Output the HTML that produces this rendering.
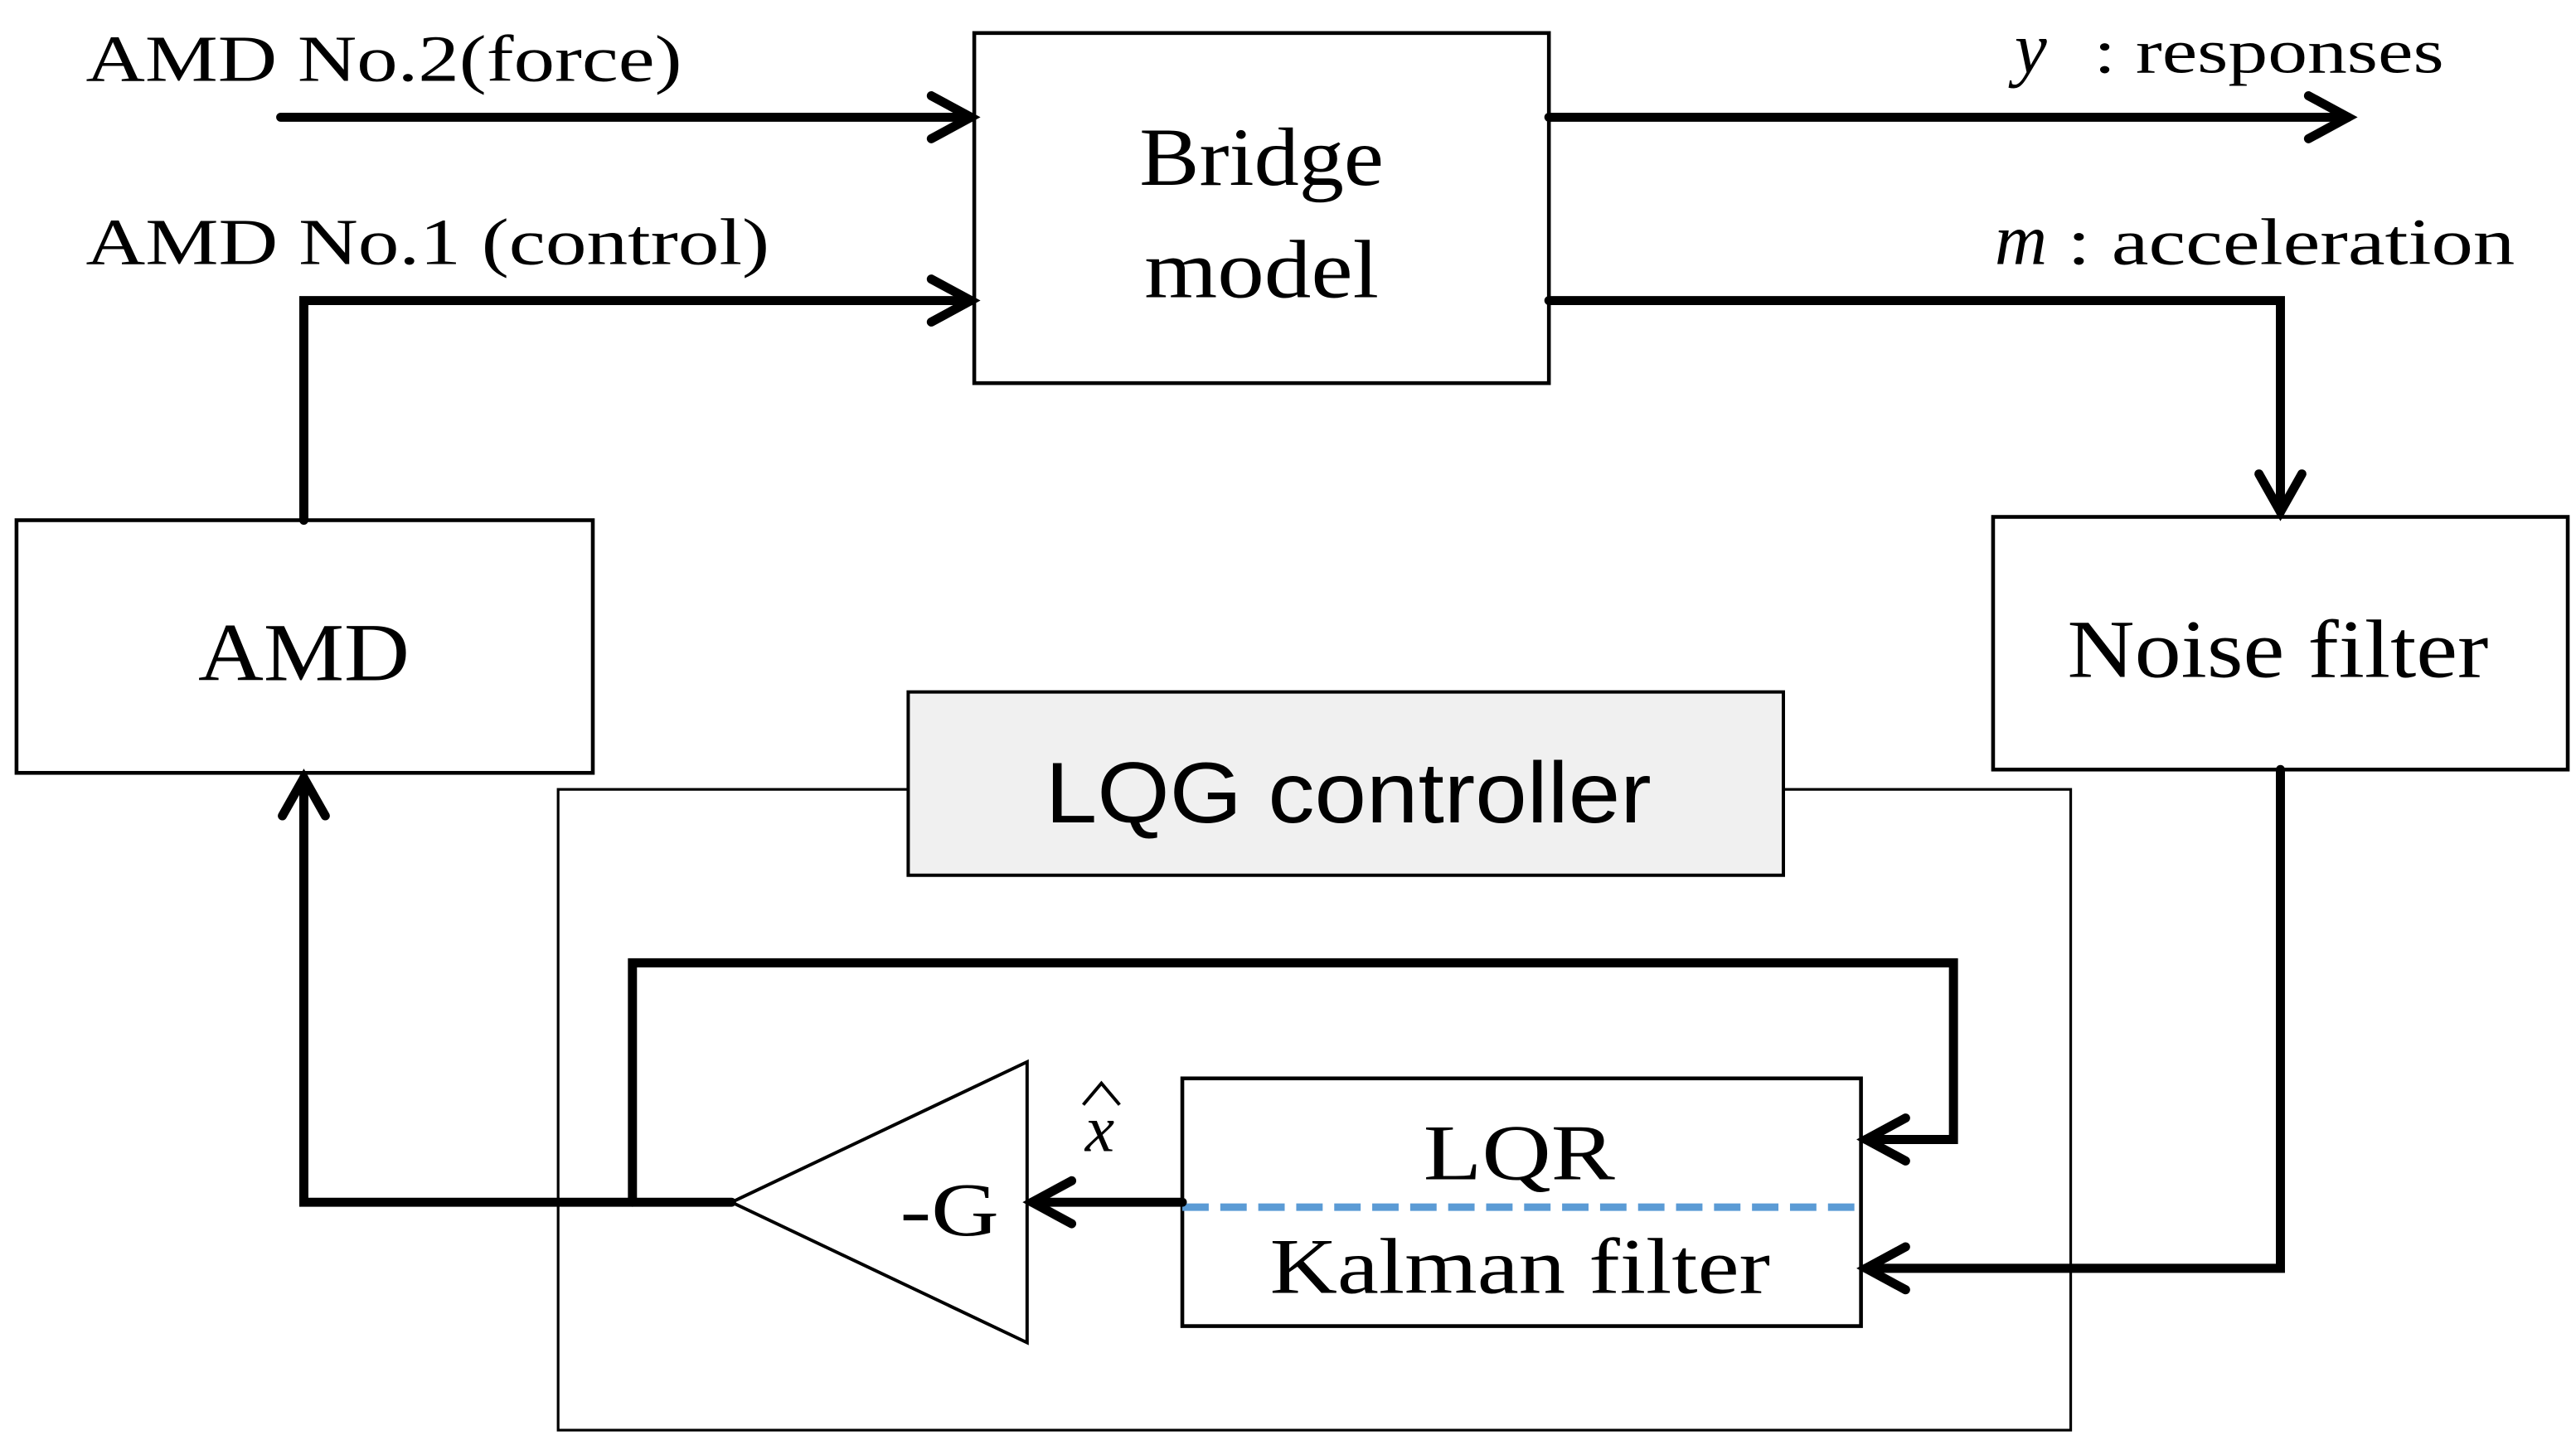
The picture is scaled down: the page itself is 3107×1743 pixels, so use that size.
<!DOCTYPE html>
<html><head><style>html,body{margin:0;padding:0;background:#fff}svg{display:block}</style></head><body>
<svg width="3107" height="1743" viewBox="0 0 1560 875" preserveAspectRatio="none" xmlns="http://www.w3.org/2000/svg">
<g font-family="Liberation Serif, serif" fill="#000">
<g fill="none" stroke="#000" stroke-width="2.3">
<rect x="590" y="20" width="348" height="212"/>
<rect x="10" y="315" width="349" height="153"/>
<rect x="1207" y="313" width="348" height="153"/>
<rect x="338" y="478" width="916" height="388" stroke-width="1.6"/>
<rect x="550" y="419" width="530" height="111" fill="#f0f0f0" stroke-width="2"/>
<polygon points="443,728 622,643 622,813" stroke-width="2"/>
<rect x="716" y="653" width="411" height="150"/>
</g>
<line x1="716" y1="731" x2="1127" y2="731" stroke="#5b9bd5" stroke-width="4.5" stroke-dasharray="16,7"/>
<g fill="none" stroke="#000" stroke-width="5.5" stroke-linecap="round" stroke-linejoin="miter">
<polyline points="170,71 588,71"/>
<polyline points="184,315 184,182 588,182"/>
<polyline points="938,71 1422,71"/>
<polyline points="938,182 1381,182 1381,310"/>
<polyline points="716,728 625,728"/>
<polyline points="443,728 184,728 184,471"/>
<polyline points="383,728 383,583 1183,583 1183,690 1130,690"/>
<polyline points="1381,466 1381,768 1130,768"/>
</g>
<g fill="none" stroke="#000" stroke-width="5.5" stroke-linecap="round" stroke-linejoin="miter">
<polyline points="564,58 588,71 564,84"/>
<polyline points="564,169 588,182 564,195"/>
<polyline points="1398,58 1422,71 1398,84"/>
<polyline points="1368,287 1381,310 1394,287"/>
<polyline points="649,715 625,728 649,741"/>
<polyline points="171,494 184,471 197,494"/>
<polyline points="1154,677 1130,690 1154,703"/>
<polyline points="1154,755 1130,768 1154,781"/>
</g>
<text x="52" y="49" font-size="40" textLength="361" lengthAdjust="spacingAndGlyphs">AMD  No.2(force)</text>
<text x="52" y="160" font-size="40" textLength="414" lengthAdjust="spacingAndGlyphs">AMD  No.1 (control)</text>
<text x="1220" y="44" font-size="44" font-style="italic">y</text>
<text x="1268" y="44" font-size="38" textLength="212" lengthAdjust="spacingAndGlyphs">: responses</text>
<text x="1208" y="160" font-size="44" font-style="italic">m</text>
<text x="1252" y="160" font-size="40" textLength="271" lengthAdjust="spacingAndGlyphs">: acceleration</text>
<text x="690" y="112" font-size="50" textLength="148" lengthAdjust="spacingAndGlyphs">Bridge</text>
<text x="693" y="180" font-size="50" textLength="142" lengthAdjust="spacingAndGlyphs">model</text>
<text x="120" y="412" font-size="50" textLength="128" lengthAdjust="spacingAndGlyphs">AMD</text>
<text x="1252" y="410" font-size="50" textLength="255" lengthAdjust="spacingAndGlyphs">Noise filter</text>
<text x="633" y="498" font-size="52" textLength="367" lengthAdjust="spacingAndGlyphs" font-family="Liberation Sans, sans-serif">LQG controller</text>
<text x="545" y="748" font-size="46" textLength="60" lengthAdjust="spacingAndGlyphs">-G</text>
<text x="666" y="697" font-size="40" font-style="italic" text-anchor="middle">x</text>
<polyline points="656,669 667,656 678,669" fill="none" stroke="#000" stroke-width="2"/>
<text x="862" y="714" font-size="48" textLength="116" lengthAdjust="spacingAndGlyphs">LQR</text>
<text x="769" y="783" font-size="48" textLength="303" lengthAdjust="spacingAndGlyphs">Kalman filter</text>
</g>
</svg>
</body></html>
